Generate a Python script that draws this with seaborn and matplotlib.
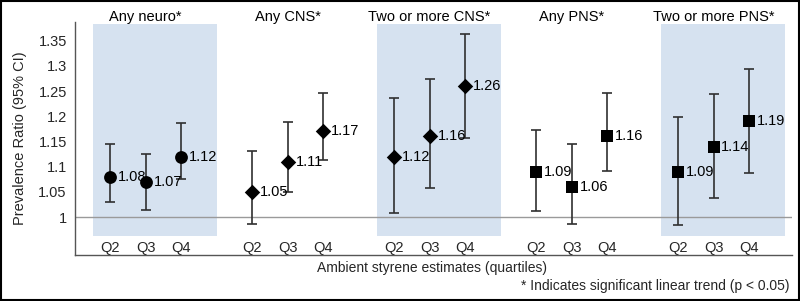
import matplotlib
matplotlib.use("Agg")
import matplotlib.pyplot as plt
import seaborn as sns
import pandas as pd
from matplotlib.patches import Rectangle

groups = ["Any neuro*", "Any CNS*", "Two or more CNS*", "Any PNS*", "Two or more PNS*"]
quartiles = ["Q2", "Q3", "Q4"]
marker_types = ["circle", "diamond", "diamond", "square", "square"]
shaded = [True, False, True, False, True]

estimates = [
    [1.08, 1.07, 1.12],
    [1.05, 1.11, 1.17],
    [1.12, 1.16, 1.26],
    [1.09, 1.06, 1.16],
    [1.09, 1.14, 1.19],
]
lower = [
    [1.030, 1.014, 1.075],
    [0.986, 1.050, 1.113],
    [1.008, 1.058, 1.157],
    [1.012, 0.986, 1.091],
    [0.984, 1.038, 1.087],
]
upper = [
    [1.145, 1.125, 1.187],
    [1.131, 1.188, 1.246],
    [1.236, 1.274, 1.363],
    [1.173, 1.145, 1.246],
    [1.198, 1.244, 1.294],
]
ytick_values = [1, 1.05, 1.1, 1.15, 1.2, 1.25, 1.3, 1.35]
ytick_labels = ["1", "1.05", "1.1", "1.15", "1.2", "1.25", "1.3", "1.35"]

rows = []
for gi, g in enumerate(groups):
    for qi, q in enumerate(quartiles):
        rows.append(dict(group=g, quartile=q, pos=gi * 4 + qi,
                         est=estimates[gi][qi], lo=lower[gi][qi], hi=upper[gi][qi],
                         mtype=marker_types[gi]))
df = pd.DataFrame(rows)

sns.set_theme(style="white")
plt.rcParams["font.family"] = ["Liberation Sans", "DejaVu Sans"]
FS = 10

fig = plt.figure(figsize=(8, 3.01), dpi=100)
ax = fig.add_axes([0.094, 0.153, 0.896, 0.774])

ax.set_xlim(-0.986, 19.21)
ax.set_ylim(0.925, 1.387)

band_color = "#d6e2f0"
for gi, s in enumerate(shaded):
    if s:
        ax.add_patch(Rectangle((gi * 4 - 0.49, 0.962), 3.5, 1.383 - 0.962,
                               facecolor=band_color, edgecolor="none", zorder=0))

ax.axhline(1.0, color="#9a9a9a", lw=1.0, zorder=1)

ax.errorbar(df["pos"], df["est"],
            yerr=[df["est"] - df["lo"], df["hi"] - df["est"]],
            fmt="none", ecolor="#303030", elinewidth=1.2, capsize=3.8,
            capthick=1.2, zorder=2)

marker_map = {"circle": "o", "diamond": "D", "square": "s"}
size_map = {"circle": 85, "diamond": 62, "square": 70}
for mt in ["circle", "diamond", "square"]:
    sub = df[df["mtype"] == mt]
    sns.scatterplot(data=sub, x="pos", y="est", marker=marker_map[mt],
                    color="black", s=size_map[mt], edgecolor="black",
                    linewidth=0, legend=False, ax=ax, zorder=3)

for _, r in df.iterrows():
    ax.text(r["pos"] + 0.22, r["est"], f"{r['est']:.2f}", ha="left", va="center",
            fontsize=FS + 0.5, color="black", zorder=4)

for gi, g in enumerate(groups):
    ax.text(gi * 4 + 1, 1.02, g, transform=ax.get_xaxis_transform(),
            ha="center", va="center", fontsize=FS + 0.5, color="black")

ax.set_xticks(df["pos"].tolist())
ax.set_xticklabels(df["quartile"].tolist(), fontsize=FS + 0.5)
ax.tick_params(axis="x", length=0, pad=-10)
ax.set_yticks(ytick_values)
ax.set_yticklabels(ytick_labels, fontsize=FS + 0.5)
ax.tick_params(axis="y", length=0, pad=6)

ax.set_xlabel("")
ax.set_ylabel("Prevalence Ratio (95% CI)", fontsize=FS + 0.5, labelpad=8)

for side in ["top", "right"]:
    ax.spines[side].set_visible(False)
for side in ["left", "bottom"]:
    ax.spines[side].set_color("#555555")
    ax.spines[side].set_linewidth(1.0)

fig.text(0.54, 0.11, "Ambient styrene estimates (quartiles)", ha="center", va="center",
         fontsize=FS)
fig.text(0.987, 0.05, "* Indicates significant linear trend (p < 0.05)", ha="right",
         va="center", fontsize=FS)

fig.add_artist(Rectangle((0.001, 0.002), 0.998, 0.996, transform=fig.transFigure,
                         fill=False, edgecolor="black", lw=1.5))

fig.savefig("out.png", dpi=100)
